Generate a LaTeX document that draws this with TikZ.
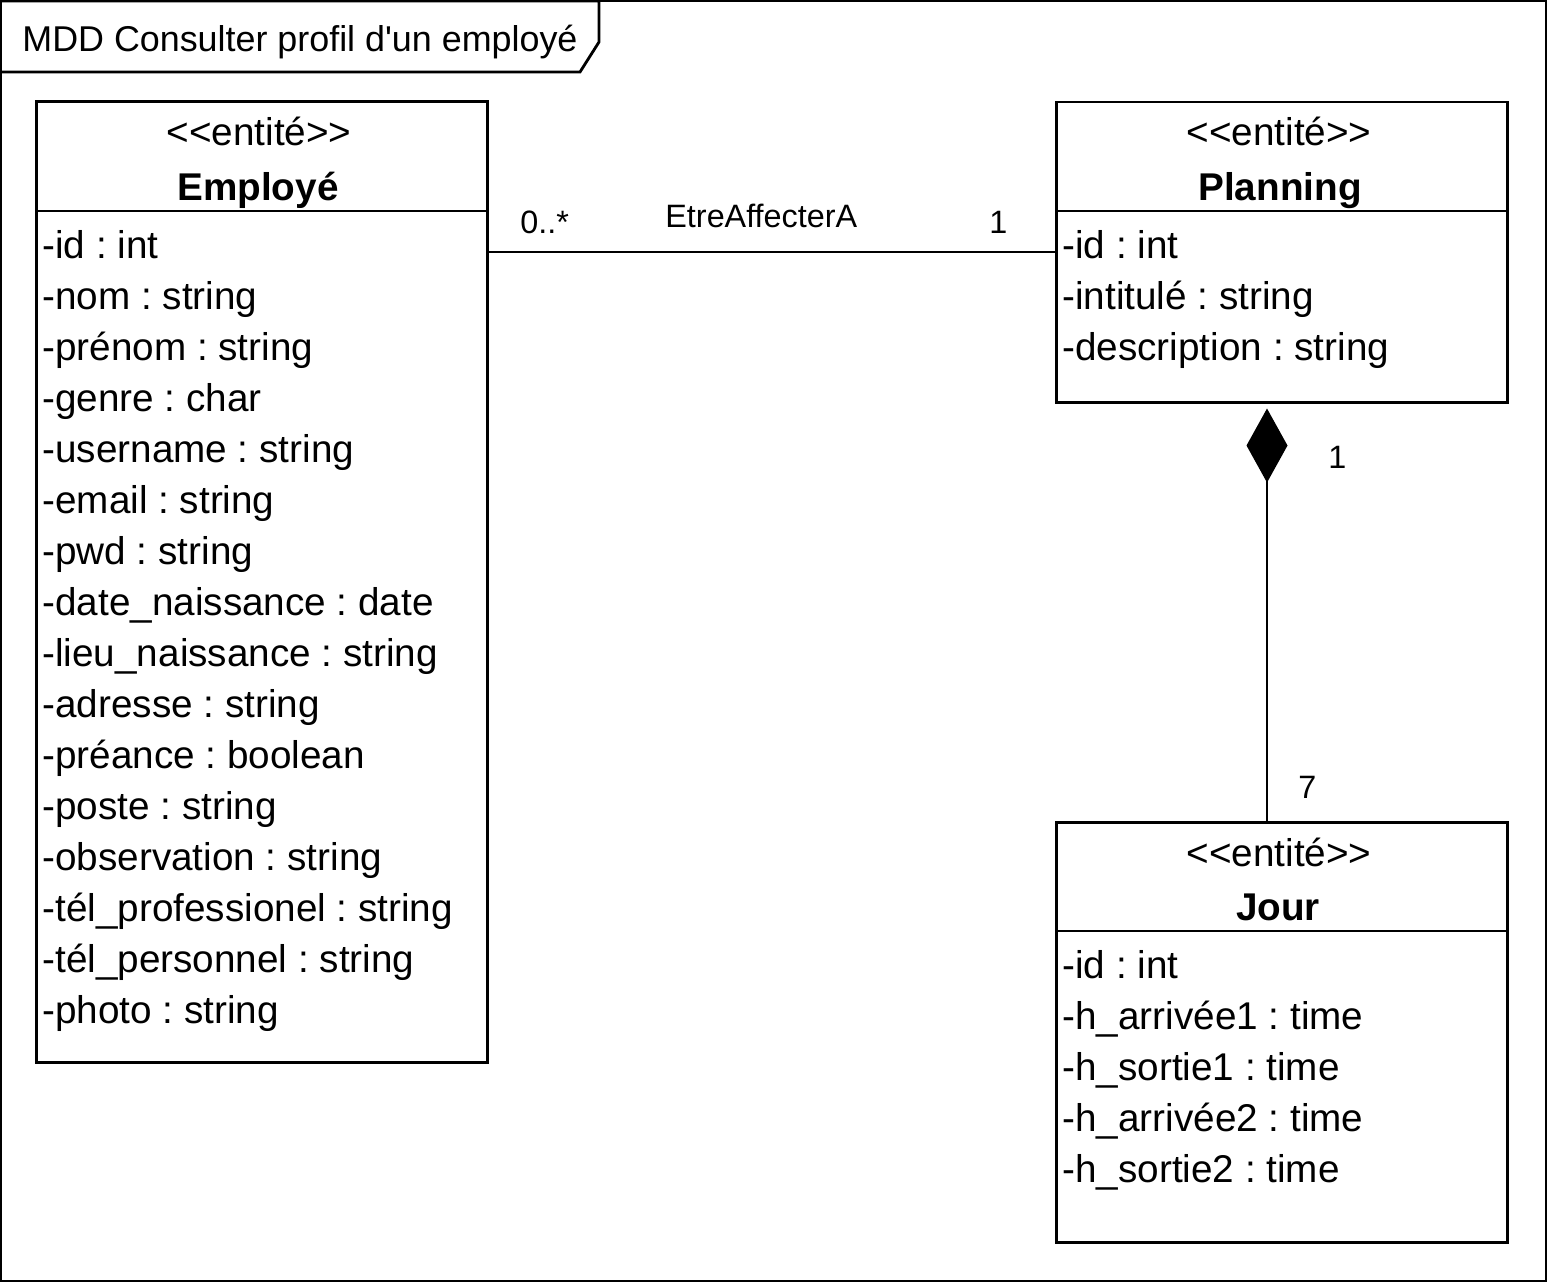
\documentclass[tikz,border=0pt]{standalone}
\usepackage{fontspec}
\setmainfont{Liberation Sans}
\usetikzlibrary{arrows.meta}
\frenchspacing

\begin{document}
\begin{tikzpicture}[x=0.01cm,y=-0.01cm,line width=0.8pt,
  classbox/.style={draw,minimum width=4.5cm,inner sep=0pt},
  attr/.style={anchor=base west,inner sep=0pt,font=\fontsize{11}{13}\selectfont},
  stereo/.style={anchor=base,inner sep=0pt,font=\fontsize{11}{13}\selectfont},
  cname/.style={anchor=base,inner sep=0pt,font=\fontsize{11}{13}\selectfont\bfseries},
  mult/.style={anchor=base west,inner sep=0pt,font=\fontsize{9.2}{11}\selectfont}]
\useasboundingbox (0,0) rectangle (1548,1284);

% frame
\draw (1,1) rectangle (1546,1281);
\draw (1,1) -- (599,1) -- (599,42) -- (580,72) -- (1,72);
\node[mult,font=\fontsize{10.2}{12}\selectfont] (title) at (21,51)
  {MDD Consulter profil d\textquotesingle un employé};

% Employé
\node[classbox,minimum height=9.6cm] (employe) at (262,582) {};
\draw (employe.west |- 0,211) -- (employe.east |- 0,211);
\node[stereo] (employeS) at (259,145) {<{}<entité>{}>};
\node[cname] (employeN) at (258,200) {Employé};
\foreach \t [count=\i from 0] in {-id : int,-nom : string,-prénom : string,
    -genre : char,-username : string,-email : string,-pwd : string,
    -date\_naissance : date,-lieu\_naissance : string,-adresse : string,
    -préance : boolean,-poste : string,-observation : string,
    -tél\_professionel : string,-tél\_personnel : string,-photo : string}
  \node[attr] (employeA\i) at (41,258+\i*51) {\t};

% Planning
\node[classbox,minimum height=3cm] (planning) at (1282,252) {};
\draw (planning.west |- 0,211) -- (planning.east |- 0,211);
\node[stereo] (planningS) at (1279,145) {<{}<entité>{}>};
\node[cname] (planningN) at (1280,200) {Planning};
\foreach \t [count=\i from 0] in {-id : int,-intitulé : string,-description : string}
  \node[attr] (planningA\i) at (1061,258+\i*51) {\t};

% Jour
\node[classbox,minimum height=4.19cm] (jour) at (1282,1032.5) {};
\draw (jour.west |- 0,931) -- (jour.east |- 0,931);
\node[stereo] (jourS) at (1279,866) {<{}<entité>{}>};
\node[cname] (jourN) at (1278,920) {Jour};
\foreach \t [count=\i from 0] in {-id : int,-h\_arrivée1 : time,-h\_sortie1 : time,
    -h\_arrivée2 : time,-h\_sortie2 : time}
  \node[attr] (jourA\i) at (1061,978+\i*51) {\t};

% associations
\draw (employe.east |- planning.west) -- (planning.west);
\node[mult] (m1) at (519,233) {0..*};
\node[mult] (assoc) at (664,227) {EtreAffecterA};
\node[mult] (m2) at (988,233) {1};

\coordinate (cmp) at (1267,0);
\draw[-{Diamond[length=0.74cm,width=0.41cm]},shorten >=0.05cm]
  (jour.north -| cmp) -- (planning.south -| cmp);
\node[mult] (m3) at (1327,468) {1};
\node[mult] (m4) at (1297,798) {7};
\end{tikzpicture}
\end{document}
